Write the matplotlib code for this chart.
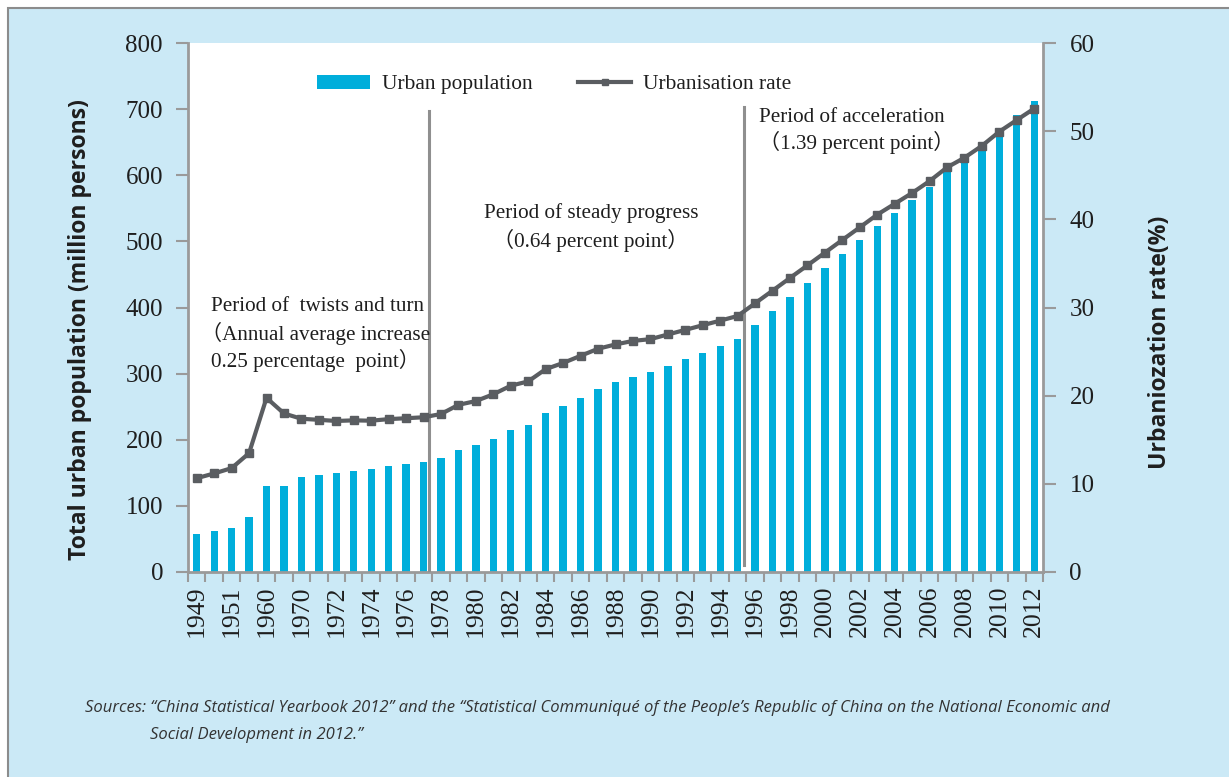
import matplotlib
matplotlib.use("Agg")
import matplotlib.pyplot as plt
import numpy as np
from matplotlib.patches import Rectangle
from matplotlib.lines import Line2D
from matplotlib.patches import Patch

years = ["1949", "1950", "1951", "1955", "1960", "1965"] + [str(y) for y in range(1970, 2013)]
urban_pop = [57.65, 61.69, 66.32, 82.85, 130.73, 130.45,
             144.24, 147.11, 149.35, 153.45, 155.95, 160.30, 163.41, 166.69, 172.45, 184.95,
             191.40, 201.71, 214.80, 222.74, 240.17, 250.94, 263.66, 276.74, 286.61, 295.40,
             301.95, 312.03, 321.75, 331.73, 341.69, 351.74, 373.04, 394.49, 416.08, 437.48,
             459.06, 480.64, 502.12, 523.76, 542.83, 562.12, 582.88, 606.33, 624.03, 645.12,
             669.78, 690.79, 711.82]
urban_rate = [10.64, 11.18, 11.78, 13.48, 19.75, 17.98,
              17.38, 17.26, 17.13, 17.20, 17.16, 17.34, 17.44, 17.55, 17.92, 18.96,
              19.39, 20.16, 21.13, 21.62, 23.01, 23.71, 24.52, 25.32, 25.81, 26.21,
              26.41, 26.94, 27.46, 27.99, 28.51, 29.04, 30.48, 31.91, 33.35, 34.78,
              36.22, 37.66, 39.09, 40.53, 41.76, 42.99, 44.34, 45.89, 46.99, 48.34,
              49.95, 51.27, 52.57]

BG = "#cbe9f6"
BAR = "#00aedb"
LINE = "#5a5d61"
SPINE = "#9a9a9a"
TXT = "#1e1e1e"
serif = ["Liberation Serif", "Noto Sans CJK SC"]

fig = plt.figure(figsize=(12.29, 7.77), dpi=100)
fig.patch.set_facecolor("white")
bgrect = Rectangle((8 / 1229, -0.1), 1.2, (777 - 8) / 777 + 0.1, transform=fig.transFigure,
                   facecolor=BG, edgecolor="#8c8c8c", linewidth=1.5, zorder=-10)
fig.patches.append(bgrect)

L, R, T, B = 188, 1043, 43, 572
ax = fig.add_axes([L / 1229, 1 - B / 777, (R - L) / 1229, (B - T) / 777])
ax.set_facecolor("white")
x = np.arange(len(years))
ax.bar(x, urban_pop, width=0.42, color=BAR, zorder=2)
ax.set_xlim(-0.5, len(years) - 0.5)
ax.set_ylim(0, 800)
ax.set_yticks(range(0, 801, 100))
ax.set_xticks(x[::2])
ax.set_xticklabels(years[::2], rotation=90, family=serif, fontsize=18.5, color=TXT)
ax.set_xticks(np.arange(-0.5, len(years), 1), minor=True)
ax.tick_params(axis="x", which="major", length=0, pad=10)
ax.tick_params(axis="x", which="minor", length=7, color=SPINE, width=1.5)
ax.tick_params(axis="y", length=9, color=SPINE, width=1.5, labelsize=18, pad=9, labelcolor=TXT)
for lab in ax.get_yticklabels():
    lab.set_family(serif)
for s in ["top", "right"]:
    ax.spines[s].set_visible(False)
for s in ["left", "bottom"]:
    ax.spines[s].set_color(SPINE)
    ax.spines[s].set_linewidth(2)

ax2 = ax.twinx()
ax2.plot(x, urban_rate, color=LINE, linewidth=3, marker="s", markersize=5.5, zorder=5)
ax2.set_ylim(0, 60)
ax2.set_yticks(range(0, 61, 10))
ax2.tick_params(axis="y", length=9, color=SPINE, width=1.5, labelsize=18, pad=10, labelcolor=TXT)
for lab in ax2.get_yticklabels():
    lab.set_family(serif)
for s in ["top", "left", "bottom"]:
    ax2.spines[s].set_visible(False)
ax2.spines["right"].set_color(SPINE)
ax2.spines["right"].set_linewidth(2)

# period separators
ax.plot([13.3, 13.3], [0, 697], color="#8f8f8f", linewidth=2.2, zorder=4)
ax.plot([31.35, 31.35], [10, 703], color="#8f8f8f", linewidth=2.2, zorder=4)

tk = dict(family=serif, fontsize=15.2, color=TXT, zorder=6)
ax.text(0.82, 401, "Period of  twists and turn", ha="left", va="center", **tk)
ax.text(0.22, 361, "（Annual average increase", ha="left", va="center", **tk)
ax.text(0.82, 320.5, "0.25 percentage  point）", ha="left", va="center", **tk)
ax.text(22.6, 543, "Period of steady progress", ha="center", va="center", **tk)
ax.text(22.6, 502, "（0.64 percent point）", ha="center", va="center", **tk)
ax.text(32.2, 687, "Period of acceleration", ha="left", va="center", **tk)
ax.text(32.2, 649, "（1.39 percent point）", ha="left", va="center", **tk)

handles = [Patch(facecolor=BAR, edgecolor="none"),
           Line2D([0], [0], color=LINE, linewidth=3, marker="s", markersize=4)]
leg = ax.legend(handles, ["Urban population", "Urbanisation rate"], loc="center left",
                bbox_to_anchor=(317 / 1229, 1 - 84.5 / 777), bbox_transform=fig.transFigure,
                ncol=2, frameon=False, borderpad=0, borderaxespad=0, handlelength=2.5,
                handleheight=0.7, handletextpad=0.55, columnspacing=2.1,
                prop={"family": serif, "size": 15.4})
for t in leg.get_texts():
    t.set_color(TXT)

fig.text(80 / 1229, 1 - 330 / 777, "Total urban population (million persons)", rotation=90,
         ha="center", va="center", fontsize=16.6, fontweight="bold", family="Open Sans", color=TXT)
fig.text(1160 / 1229, 1 - 342 / 777, "Urbaniozation rate(%)", rotation=90,
         ha="center", va="center", fontsize=16.6, fontweight="bold", family="Open Sans", color=TXT)

src = dict(fontsize=12, style="italic", family=["Liberation Sans Narrow", "Open Sans"], color="#333333")
fig.text(85 / 1229, 1 - 708 / 777, "Sources: \u201cChina Statistical Yearbook 2012\u201d and the \u201cStatistical Communiqu\u00e9 of the People\u2019s Republic of China on the National Economic and",
         ha="left", va="center", **src)
fig.text(150 / 1229, 1 - 735 / 777, "Social Development in 2012.\u201d", ha="left", va="center", **src)

fig.savefig("out.png", dpi=100, facecolor=fig.get_facecolor())
